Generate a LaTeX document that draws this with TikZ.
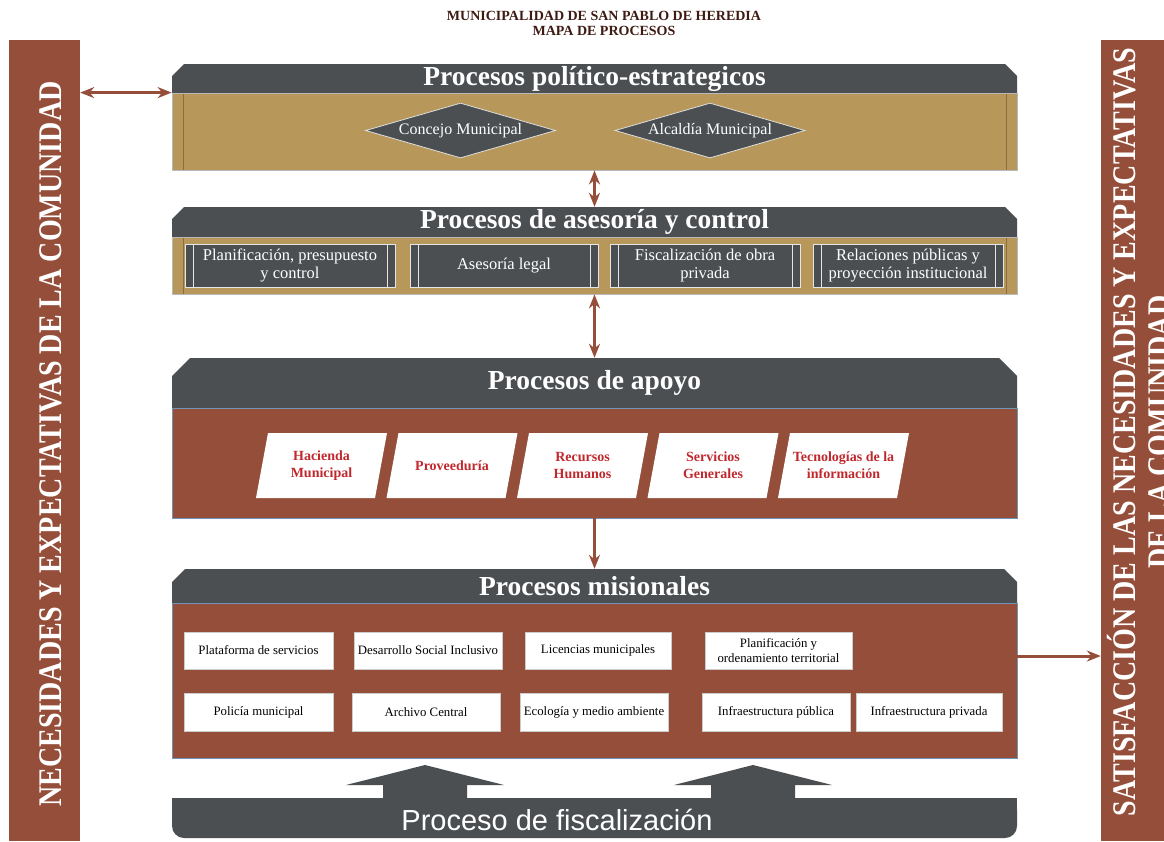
\documentclass[tikz,border=0pt]{standalone}
\usepackage{fontspec}
\setmainfont{Liberation Serif}
\newfontfamily\condserif[FakeStretch=0.85]{Liberation Serif}
\newfontfamily\sansf{Liberation Sans}
\usetikzlibrary{shapes.geometric,arrows.meta}
\definecolor{brn}{HTML}{954E3A}
\definecolor{dgrey}{HTML}{4B4F52}
\definecolor{tanbg}{HTML}{B8985A}
\definecolor{tanline}{HTML}{8A6E3E}
\definecolor{redtxt}{HTML}{C0282D}
\definecolor{ttl}{HTML}{3E1A12}
\definecolor{edgeblue}{HTML}{6E94B8}
\newcommand\hdrpath[5]{\fill[dgrey] (#1,#4) -- (#1,#2+#5) -- (#1+#5,#2) -- (#3-#5,#2) -- (#3,#2+#5) -- (#3,#4) -- cycle;}
\begin{document}
\begin{tikzpicture}[x=1pt,y=-1pt,
  conn/.style={draw=brn, line width=3pt, >={Stealth[length=14pt,width=11pt]}},
  hdtext/.style={text=white, font=\bfseries\fontsize{27.5pt}{32pt}\selectfont, minimum width=845pt, inner sep=0pt},
  tanbody/.style={fill=tanbg, draw=gray!55, line width=0.8pt, minimum width=845pt, inner sep=0pt,
    path picture={\draw[tanline, line width=1pt]
      ([xshift=11pt]path picture bounding box.north west) -- ([xshift=11pt]path picture bounding box.south west)
      ([xshift=-11pt]path picture bounding box.north east) -- ([xshift=-11pt]path picture bounding box.south east);}},
  brnbody/.style={fill=brn, draw=edgeblue, line width=0.8pt, minimum width=845pt, inner sep=0pt},
  dia/.style={diamond, fill=dgrey, draw=white!75!gray, line width=0.8pt, minimum width=190pt, minimum height=55pt,
    aspect=3.45, inner sep=0pt, text=white, font=\fontsize{16pt}{18pt}\selectfont},
  abox/.style={fill=dgrey, draw=white!80!gray, line width=0.8pt, minimum height=43pt, inner sep=0pt, text=white,
    align=center, font=\fontsize{16.5pt}{18.5pt}\selectfont,
    path picture={\draw[white!80!gray, line width=0.8pt]
      ([xshift=8pt]path picture bounding box.north west) -- ([xshift=8pt]path picture bounding box.south west)
      ([xshift=-8pt]path picture bounding box.north east) -- ([xshift=-8pt]path picture bounding box.south east);}},
  slantbox/.style={minimum width=131pt, minimum height=65pt, inner sep=0pt, align=center, text=redtxt,
    font=\bfseries\fontsize{14pt}{17pt}\selectfont,
    path picture={\fill[white] ([xshift=12pt]path picture bounding box.north west) -- (path picture bounding box.north east)
      -- ([xshift=-12pt]path picture bounding box.south east) -- (path picture bounding box.south west) -- cycle;}},
  mbox/.style={fill=white, draw=gray!40, minimum width=148pt, minimum height=37pt, inner sep=0pt, align=center,
    font=\fontsize{12.8pt}{14.5pt}\selectfont},
  sidebar/.style={fill=brn, inner sep=0pt},
  sidetext/.style={rotate=90, anchor=base, inner sep=0pt, text=white, font=\condserif\bfseries\fontsize{33pt}{34pt}\selectfont}
]
\useasboundingbox (0,0) rectangle (1164,841);
\clip (0,0) rectangle (1164,841);
\fill[white] (0,0) rectangle (1164,841);

% title
\node[font=\bfseries\fontsize{14pt}{15pt}\selectfont, text=ttl, align=center] (title) at (604,23.5)
  {MUNICIPALIDAD DE SAN PABLO DE HEREDIA\\MAPA DE PROCESOS};

% side bars
\node[sidebar, minimum width=71pt, minimum height=801pt] (lb) at (44.5,440.5) {};
\node[sidetext] (lt) at (61,444) {NECESIDADES Y EXPECTATIVAS DE LA COMUNIDAD};
\node[sidebar, minimum width=90pt, minimum height=801pt] (rb) at (1146,440.5) {};
\node[sidetext] (rt1) at (1135,432) {SATISFACCIÓN DE LAS NECESIDADES Y EXPECTATIVAS};
\node[sidetext] (rt2) at (1170,432) {DE LA COMUNIDAD};

% box 1
\hdrpath{172}{64}{1017}{93}{12}
\node[hdtext, minimum height=29pt] (h1) at (594.5,78.5) {Procesos político-estrategicos};
\node[tanbody, minimum height=77pt] (b1) at (594.5,131.5) {};
\node[dia] (d1) at (460.5,130.5) {Concejo Municipal};
\node[dia] (d2) at (710,130.5) {Alcaldía Municipal};

% box 2
\hdrpath{172}{207}{1017}{237}{12}
\node[hdtext, minimum height=30pt] (h2) at (594.5,222) {Procesos de asesoría y control};
\node[tanbody, minimum height=57pt] (b2) at (594.5,265.5) {};
\node[abox, minimum width=210pt] (a1) at (290,265.5) {Planificación, presupuesto\\y control};
\node[abox, minimum width=188pt] (a2) at (504,265.5) {Asesoría legal};
\node[abox, minimum width=190pt] (a3) at (705,265.5) {Fiscalización de obra\\privada};
\node[abox, minimum width=190pt] (a4) at (908,265.5) {Relaciones públicas y\\proyección institucional};

% box 3
\hdrpath{172}{358}{1017}{408}{18}
\node[hdtext, minimum height=50pt] (h3) at (594.5,383) {Procesos de apoyo};
\node[brnbody, minimum height=110pt] (b3) at (594.5,463) {};
\node[slantbox] (p1) at (321.5,465.5) {Hacienda\\Municipal};
\node[slantbox] (p2) at (452,465.5) {Proveeduría};
\node[slantbox] (p3) at (582.5,465.5) {Recursos\\Humanos};
\node[slantbox] (p4) at (713,465.5) {Servicios\\Generales};
\node[slantbox] (p5) at (843.5,465.5) {Tecnologías de la\\información};

% box 4
\hdrpath{172}{569}{1017}{603}{13}
\node[hdtext, minimum height=34pt] (h4) at (594.5,586) {Procesos misionales};
\node[brnbody, minimum height=155pt] (b4) at (594.5,680.5) {};
\node[mbox, minimum width=149pt] (m1) at (258.5,650.5) {Plataforma de servicios};
\node[mbox] (m2) at (428,650.5) {Desarrollo Social Inclusivo};
\node[mbox, minimum width=146pt] (m3) at (598,650.5) {Licencias municipales};
\node[mbox, minimum width=147pt] (m4) at (778.5,650.5) {Planificación y\\ordenamiento territorial};
\node[mbox, minimum width=149pt, minimum height=38pt] (m5) at (258.5,712) {Policía municipal};
\node[mbox, minimum height=38pt] (m6) at (426,712) {Archivo Central};
\node[mbox, minimum height=38pt] (m7) at (594,712) {Ecología y medio ambiente};
\node[mbox, minimum height=38pt] (m8) at (776,712) {Infraestructura pública};
\node[mbox, minimum width=146pt, minimum height=38pt] (m9) at (929,712) {Infraestructura privada};

% fiscalizacion
\foreach \cx in {425,753}{
  \fill[dgrey] (\cx,765) -- (\cx+79,785) -- (\cx+42,785) -- (\cx+42,799) -- (\cx-42,799) -- (\cx-42,785) -- (\cx-79,785) -- cycle;}
\node[fill=dgrey, rounded corners=12pt, minimum width=845pt, minimum height=40pt, inner sep=0pt] (fz) at (594.5,818) {};
\fill[dgrey] (172,798) rectangle (1017,815);
\node[text=white, font=\sansf\fontsize{29pt}{32pt}\selectfont, inner sep=0pt] (fzt) at (557,820) {Proceso de fiscalización};

% connectors
\draw[conn,<->] (lb.east |- b1.north west) -- (b1.north west);
\draw[conn,<->] (b1.south) -- (h2.north);
\draw[conn,<->] (b2.south) -- (h3.north);
\draw[conn,->] (b3.south) -- (h4.north);
\draw[conn,->] ([yshift=24.5pt]b4.east) -- ([yshift=24.5pt]b4.east -| rb.west);
\end{tikzpicture}
\end{document}
